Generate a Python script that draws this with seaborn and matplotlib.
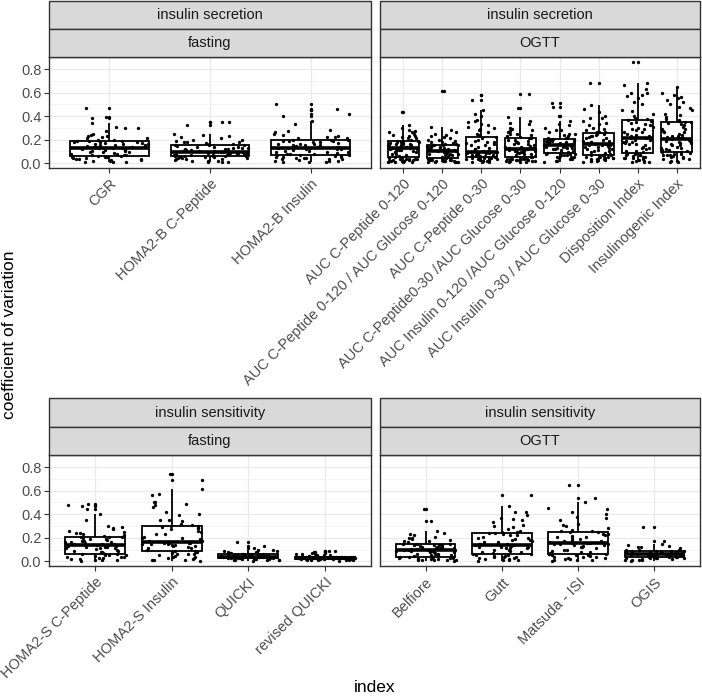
import numpy as np
import pandas as pd
import matplotlib
matplotlib.use("Agg")
import matplotlib.pyplot as plt
import seaborn as sns
from matplotlib.patches import Rectangle
from matplotlib.ticker import MultipleLocator

# ---------------- data ----------------
sec_fast_cats = ["CGR", "HOMA2-B C-Peptide", "HOMA2-B Insulin"]
cgr = [0.005,0.01,0.015,0.02,0.025,0.03,0.035,0.04,0.045,0.05,0.052,0.055,
       0.06,0.065,0.07,0.075,0.08,0.085,0.09,0.095,0.10,0.105,0.11,0.12,0.13,
       0.135,0.14,0.145,0.15,0.155,0.16,0.165,0.17,0.175,0.18,0.185,0.19,0.195,
       0.20,0.21,0.22,0.23,0.24,0.25,0.27,0.30,0.31,0.34,0.385,0.39,0.47,
       0.008,0.022,0.038,0.048,0.058,0.07,0.09,0.11,0.115,0.125,0.13,
       0.14,0.15,0.16,0.17,0.18,0.19,0.21,0.23,0.30]
homa2b_cpep = [0.005,0.01,0.015,0.02,0.025,0.03,0.035,0.04,0.045,0.05,0.053,0.056,0.058,
               0.06,0.063,0.066,0.07,0.073,0.076,0.08,0.083,0.086,0.089,0.091,0.093,
               0.095,0.10,0.105,0.11,0.115,0.12,0.125,0.13,0.135,0.14,0.145,0.15,0.155,0.16,
               0.165,0.17,0.175,0.18,0.19,0.20,0.21,0.22,0.235,0.25,0.32,0.345,0.35,
               0.008,0.018,0.03,0.045,0.052,0.062,0.068,0.075,0.08,0.085,0.09,
               0.10,0.11,0.12,0.13,0.14,0.155,0.18,0.20,0.23]
homa2b_ins = [0.005,0.01,0.015,0.02,0.025,0.03,0.035,0.04,0.045,0.05,0.053,0.056,
              0.06,0.065,0.07,0.075,0.08,0.085,0.09,0.095,0.10,0.11,0.115,0.12,0.125,
              0.13,0.135,0.14,0.145,0.15,0.155,0.16,0.165,0.17,0.18,0.185,0.19,0.195,
              0.20,0.21,0.215,0.22,0.23,0.25,0.26,0.28,0.33,0.36,0.40,0.415,0.455,0.46,0.50,
              0.008,0.02,0.03,0.045,0.055,0.065,0.08,0.095,0.105,0.115,0.125,
              0.135,0.15,0.16,0.175,0.185,0.195,0.22,0.24,0.27]

sec_ogtt_cats = ["AUC C-Peptide 0-120", "AUC C-Peptide 0-120 / AUC Glucose 0-120",
                 "AUC C-Peptide 0-30", "AUC C-Peptide0-30 /AUC Glucose 0-30",
                 "AUC Insulin 0-120 /AUC Glucose 0-120", "AUC Insulin 0-30 / AUC Glucose 0-30",
                 "Disposition Index", "Insulinogenic Index"]
auc_cpep120 = [0.005,0.01,0.012,0.015,0.02,0.022,0.025,0.028,0.03,0.033,0.036,0.04,
               0.05,0.06,0.07,0.08,0.09,0.10,0.105,0.11,0.115,0.12,0.125,0.13,
               0.135,0.14,0.145,0.15,0.155,0.16,0.165,0.17,0.175,0.18,0.185,0.19,
               0.20,0.21,0.22,0.23,0.24,0.25,0.26,0.27,0.28,0.30,0.325,0.435,
               0.008,0.015,0.02,0.03,0.038,0.055,0.075,0.095,0.11,0.12,0.13,
               0.14,0.15,0.16,0.17,0.18,0.19,0.21,0.23,0.26]
auc_cpep120_glu120 = [0.005,0.008,0.01,0.013,0.016,0.02,0.022,0.025,0.028,0.03,0.032,0.034,
                      0.04,0.05,0.06,0.07,0.075,0.08,0.085,0.09,0.095,0.10,0.103,0.107,
                      0.11,0.115,0.12,0.125,0.13,0.135,0.14,0.145,0.15,0.153,0.157,0.16,
                      0.17,0.18,0.19,0.20,0.21,0.22,0.24,0.25,0.26,0.28,0.31,0.61,
                      0.006,0.012,0.018,0.024,0.03,0.045,0.065,0.08,0.09,0.10,0.105,
                      0.112,0.12,0.13,0.14,0.15,0.158,0.175,0.20,0.23]
auc_cpep30 = [0.005,0.01,0.015,0.02,0.025,0.03,0.035,0.038,0.04,0.043,0.046,0.05,
              0.055,0.06,0.065,0.07,0.075,0.08,0.085,0.088,0.09,0.093,0.095,0.098,
              0.11,0.12,0.13,0.14,0.15,0.16,0.17,0.18,0.19,0.20,0.22,0.24,0.26,
              0.28,0.30,0.32,0.33,0.35,0.37,0.40,0.42,0.45,0.537,0.58,
              0.008,0.018,0.028,0.04,0.048,0.058,0.068,0.078,0.085,0.09,0.096,
              0.10,0.12,0.15,0.18,0.21,0.25,0.29,0.31,0.36]
auc_cpep30_glu30 = [0.005,0.01,0.013,0.016,0.02,0.023,0.026,0.03,0.033,0.036,0.038,0.04,
                    0.05,0.06,0.07,0.08,0.085,0.09,0.095,0.10,0.105,0.11,0.115,0.119,
                    0.125,0.13,0.14,0.145,0.15,0.16,0.17,0.18,0.19,0.20,0.21,0.22,
                    0.23,0.24,0.25,0.26,0.27,0.28,0.30,0.33,0.36,0.39,0.466,0.59,
                    0.008,0.015,0.022,0.03,0.038,0.055,0.075,0.09,0.10,0.11,0.117,
                    0.125,0.14,0.16,0.18,0.20,0.215,0.25,0.29,0.34]
auc_ins120_glu120 = [0.01,0.02,0.03,0.04,0.045,0.05,0.055,0.06,0.065,0.07,0.075,0.08,0.085,
                     0.09,0.10,0.11,0.12,0.125,0.13,0.135,0.14,0.145,0.15,0.155,0.16,
                     0.165,0.17,0.175,0.18,0.185,0.19,0.195,0.20,0.205,0.21,0.217,
                     0.23,0.24,0.25,0.26,0.28,0.30,0.33,0.36,0.40,0.48,0.51,
                     0.015,0.035,0.05,0.065,0.08,0.095,0.115,0.13,0.14,0.15,0.158,
                     0.165,0.175,0.185,0.195,0.205,0.215,0.25,0.28,0.32]
auc_ins30_glu30 = [0.01,0.015,0.02,0.025,0.03,0.035,0.04,0.045,0.05,0.055,0.06,0.065,0.068,
                   0.08,0.09,0.10,0.11,0.12,0.13,0.14,0.145,0.15,0.155,0.16,0.164,
                   0.17,0.18,0.19,0.20,0.21,0.22,0.23,0.24,0.25,0.26,0.268,
                   0.28,0.30,0.32,0.34,0.36,0.38,0.40,0.43,0.46,0.494,0.68,
                   0.015,0.03,0.045,0.055,0.065,0.085,0.10,0.12,0.135,0.15,0.16,
                   0.175,0.19,0.21,0.23,0.25,0.265,0.29,0.33,0.38]
disposition = [0.005,0.01,0.015,0.02,0.03,0.04,0.045,0.05,0.06,0.065,0.07,0.075,0.079,
               0.09,0.10,0.12,0.13,0.14,0.15,0.16,0.17,0.18,0.19,0.20,0.21,0.22,
               0.23,0.24,0.25,0.26,0.28,0.29,0.30,0.31,0.33,0.34,0.36,0.37,0.38,
               0.40,0.42,0.45,0.50,0.55,0.57,0.58,0.60,0.63,0.66,0.68,0.86,
               0.008,0.025,0.04,0.055,0.07,0.10,0.13,0.16,0.18,0.20,0.215,
               0.23,0.26,0.29,0.32,0.35,0.375,0.44,0.52,0.60]
insulinogenic = [0.005,0.01,0.02,0.03,0.04,0.05,0.06,0.065,0.07,0.075,0.08,0.085,0.093,
                 0.10,0.11,0.12,0.13,0.14,0.15,0.16,0.17,0.18,0.19,0.20,0.205,0.212,
                 0.22,0.23,0.24,0.25,0.26,0.27,0.29,0.31,0.33,0.34,0.35,0.36,0.376,
                 0.39,0.41,0.45,0.48,0.50,0.52,0.54,0.56,0.58,0.60,0.65,
                 0.015,0.035,0.055,0.07,0.09,0.11,0.13,0.15,0.17,0.19,0.21,
                 0.23,0.26,0.29,0.32,0.35,0.37,0.42,0.47,0.55]

sen_fast_cats = ["HOMA2-S C-Peptide", "HOMA2-S Insulin", "QUICKI", "revised QUICKI"]
homa2s_cpep = [0.005,0.01,0.015,0.02,0.025,0.03,0.035,0.04,0.045,0.05,0.055,0.06,0.065,
               0.07,0.08,0.09,0.10,0.105,0.11,0.115,0.12,0.125,0.13,0.135,0.14,
               0.145,0.15,0.155,0.16,0.165,0.17,0.18,0.19,0.20,0.205,0.21,0.22,
               0.23,0.24,0.25,0.26,0.28,0.29,0.30,0.40,0.44,0.47,0.48,0.49,
               0.008,0.02,0.035,0.05,0.06,0.075,0.09,0.11,0.12,0.13,0.14,
               0.15,0.16,0.175,0.19,0.205,0.215,0.24,0.27,0.35]
homa2s_ins = [0.005,0.01,0.015,0.02,0.03,0.04,0.045,0.05,0.06,0.065,0.07,0.075,0.08,
              0.09,0.10,0.11,0.12,0.13,0.14,0.145,0.15,0.152,0.155,0.158,
              0.16,0.17,0.18,0.19,0.20,0.21,0.23,0.25,0.27,0.28,0.29,0.30,0.305,
              0.32,0.35,0.35,0.39,0.42,0.46,0.48,0.49,0.50,0.56,0.57,0.61,0.69,0.74,
              0.008,0.025,0.04,0.06,0.075,0.09,0.11,0.13,0.14,0.15,0.156,
              0.17,0.20,0.23,0.26,0.28,0.30,0.34,0.40,0.50]
quicki = [0.005,0.01,0.012,0.015,0.018,0.02,0.022,0.024,0.026,0.028,
          0.03,0.031,0.032,0.033,0.034,0.035,0.036,0.037,0.038,0.039,0.04,
          0.041,0.043,0.045,0.047,0.05,0.052,0.055,0.058,0.06,0.062,0.065,
          0.07,0.075,0.08,0.085,0.09,0.10,0.11,0.13,0.16,
          0.008,0.015,0.02,0.025,0.028,0.03,0.032,0.035,0.037,0.039,0.04,
          0.042,0.045,0.05,0.055,0.06,0.064,0.07,0.08,0.10]
rquicki = [0.005,0.008,0.01,0.012,0.014,0.016,0.018,0.019,0.02,0.021,0.022,
           0.023,0.024,0.025,0.026,0.027,0.028,0.029,0.03,0.031,0.032,0.033,
           0.034,0.035,0.036,0.037,0.038,0.039,0.04,0.042,0.045,0.048,0.05,
           0.055,0.06,0.065,0.07,0.075,0.08,0.085,0.09,
           0.008,0.012,0.016,0.019,0.02,0.022,0.024,0.026,0.028,0.029,0.03,
           0.031,0.033,0.035,0.037,0.039,0.04,0.045,0.05,0.06]

sen_ogtt_cats = ["Belfiore", "Gutt", "Matsuda - ISI", "OGIS"]
belfiore = [0.005,0.01,0.012,0.015,0.018,0.02,0.022,0.025,0.028,0.03,0.033,0.037,
            0.045,0.05,0.055,0.06,0.065,0.07,0.075,0.08,0.085,0.09,0.095,0.10,
            0.105,0.11,0.115,0.12,0.125,0.13,0.135,0.14,0.145,0.15,
            0.16,0.17,0.18,0.19,0.20,0.21,0.22,0.24,0.26,0.34,0.447,
            0.008,0.015,0.022,0.03,0.036,0.05,0.065,0.08,0.09,0.095,0.10,
            0.105,0.115,0.125,0.135,0.14,0.148,0.17,0.20,0.23]
gutt = [0.005,0.01,0.015,0.02,0.025,0.03,0.035,0.04,0.045,0.05,0.055,0.06,
        0.07,0.08,0.09,0.10,0.11,0.115,0.12,0.125,0.13,0.135,0.14,0.145,0.15,
        0.16,0.17,0.18,0.19,0.20,0.21,0.22,0.23,0.24,0.25,0.254,
        0.27,0.29,0.31,0.33,0.35,0.37,0.39,0.42,0.47,0.56,
        0.008,0.02,0.035,0.045,0.058,0.075,0.095,0.11,0.125,0.14,0.148,
        0.16,0.18,0.20,0.22,0.24,0.25,0.30,0.36,0.42]
matsuda = [0.005,0.01,0.015,0.02,0.025,0.03,0.035,0.04,0.045,0.05,0.055,0.06,0.065,
           0.07,0.08,0.09,0.10,0.11,0.12,0.13,0.14,0.145,0.15,0.155,0.158,
           0.165,0.175,0.185,0.195,0.205,0.215,0.225,0.235,0.245,0.255,0.263,
           0.28,0.30,0.32,0.35,0.38,0.40,0.42,0.45,0.50,0.54,0.65,
           0.008,0.02,0.035,0.05,0.062,0.08,0.10,0.12,0.135,0.15,0.157,
           0.17,0.19,0.21,0.23,0.25,0.26,0.31,0.37,0.44]
ogis = [0.005,0.01,0.015,0.02,0.022,0.025,0.028,0.03,0.033,0.035,0.037,
        0.04,0.042,0.045,0.048,0.05,0.052,0.055,0.057,0.06,
        0.063,0.066,0.07,0.073,0.076,0.08,0.083,0.086,0.09,0.093,
        0.10,0.11,0.12,0.13,0.14,0.175,0.29,
        0.008,0.015,0.025,0.03,0.036,0.04,0.045,0.05,0.055,0.058,0.06,
        0.065,0.07,0.075,0.08,0.085,0.09,0.10,0.12,0.15]

y_ticks = [0.0, 0.2, 0.4, 0.6, 0.8]
y_ticklabels = ["0.0", "0.2", "0.4", "0.6", "0.8"]

panels = [
    ("insulin secretion", "fasting", sec_fast_cats, [cgr, homa2b_cpep, homa2b_ins]),
    ("insulin secretion", "OGTT", sec_ogtt_cats,
     [auc_cpep120, auc_cpep120_glu120, auc_cpep30, auc_cpep30_glu30,
      auc_ins120_glu120, auc_ins30_glu30, disposition, insulinogenic]),
    ("insulin sensitivity", "fasting", sen_fast_cats, [homa2s_cpep, homa2s_ins, quicki, rquicki]),
    ("insulin sensitivity", "OGTT", sen_ogtt_cats, [belfiore, gutt, matsuda, ogis]),
]

rows = []
for typ, test, cats, vals in panels:
    for c, v in zip(cats, vals):
        for x in v:
            rows.append({"type": typ, "test": test, "index": c, "cv": x})
df = pd.DataFrame(rows)

# ---------------- figure ----------------
sns.set_theme(style="whitegrid")
plt.rcParams['font.family'] = ['Liberation Sans', 'DejaVu Sans']
np.random.seed(3)

W, H = 702, 699
fig = plt.figure(figsize=(W / 100, H / 100), dpi=100)
fig.patch.set_facecolor("white")

def frac(x0, y0, x1, y1):
    return [x0 / W, 1 - y1 / H, (x1 - x0) / W, (y1 - y0) / H]

xs = [(49, 371), (380, 700)]
ys = [((0.5, 28.7, 57.3), 167.7), ((398.3, 427.3, 455.3), 566.0)]

GREY20 = "#333333"
GREY30 = "#4D4D4D"

for i, (typ, test, cats, vals) in enumerate(panels):
    r, c = divmod(i, 2)
    x0, x1 = xs[c]
    (s0, s1, p0), p1 = ys[r]
    ax = fig.add_axes(frac(x0, p0, x1, p1))
    sub = df[(df["type"] == typ) & (df["test"] == test)]
    sns.boxplot(data=sub, x="index", y="cv", order=cats, color="white", width=0.78,
                linewidth=1.3, linecolor="black", showcaps=False, whis=1.5,
                flierprops=dict(marker="o", markersize=2.4, markerfacecolor="black",
                                markeredgecolor="black", markeredgewidth=0),
                medianprops=dict(linewidth=2.6, color="black"), ax=ax, zorder=2)
    sns.stripplot(data=sub, x="index", y="cv", order=cats, color="black", size=2.4,
                  jitter=0.4, linewidth=0, ax=ax, zorder=3)
    n = len(cats)
    ax.set_xlim(-0.6, n - 0.4)
    ax.set_ylim(-0.04, 0.9)
    ax.set_yticks(y_ticks)
    ax.set_yticklabels(y_ticklabels if c == 0 else [])
    ax.yaxis.set_minor_locator(MultipleLocator(0.1))
    ax.set_facecolor("white")
    ax.grid(True, which="major", color="#EBEBEB", linewidth=1.0)
    ax.grid(True, which="minor", axis="y", color="#F2F2F2", linewidth=0.6)
    ax.set_axisbelow(True)
    for sp in ax.spines.values():
        sp.set_edgecolor(GREY20)
        sp.set_linewidth(1.0)
        sp.set_visible(True)
    ax.tick_params(axis="both", which="major", length=3.5, width=0.8, color=GREY20,
                   labelcolor=GREY30, labelsize=10.5, pad=2, bottom=True,
                   left=(c == 0))
    ax.tick_params(axis="x", which="major", pad=3)
    ax.tick_params(axis="y", which="minor", length=0)
    ax.set_xticks(range(n))
    ax.set_xticklabels(cats, rotation=45, ha="right", va="top", rotation_mode="anchor",
                       fontsize=10.5)
    ax.set_xlabel("")
    ax.set_ylabel("")
    # strips
    for (ya, yb), label in (((s0, s1), typ), ((s1, p0), test)):
        rect = Rectangle((x0 / W, 1 - yb / H), (x1 - x0) / W, (yb - ya) / H,
                         transform=fig.transFigure, facecolor="#D9D9D9",
                         edgecolor=GREY20, linewidth=1.0, zorder=1)
        fig.patches.append(rect)
        fig.text((x0 + x1) / 2 / W, 1 - (ya + yb) / 2 / H, label, ha="center",
                 va="center", fontsize=10.5, color="#1A1A1A")

fig.text(374.5 / W, 1 - 688 / H, "index", ha="center", va="center", fontsize=12.5,
         color="black")
fig.text(10 / W, 1 - 335 / H, "coefficient of variation", ha="center", va="center",
         rotation=90, fontsize=12.5, color="black")

fig.savefig("out.png", dpi=100)
